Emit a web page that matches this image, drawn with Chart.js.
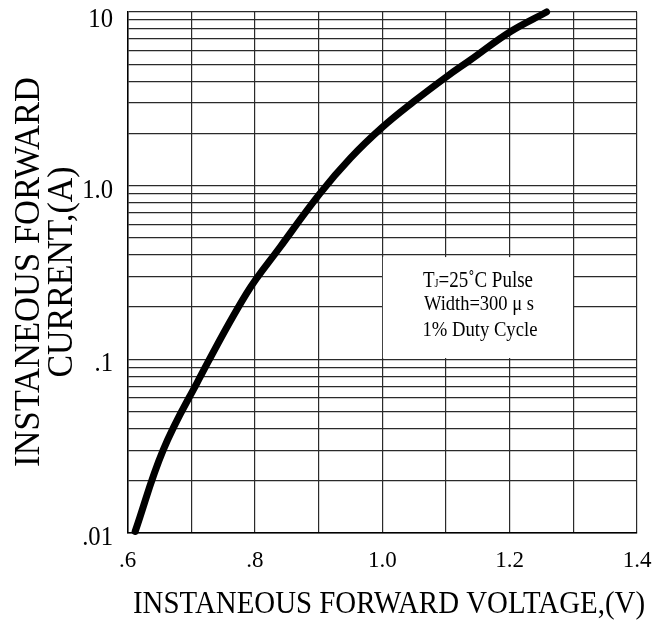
<!DOCTYPE html>
<html>
<head>
<meta charset="utf-8">
<script src="https://cdn.jsdelivr.net/npm/chart.js@4/dist/chart.umd.min.js"></script>
<style>
  html, body { margin: 0; padding: 0; background: #fff; }
  #wrap { width: 665px; height: 622px; position: relative; }
</style>
</head>
<body>
<div id="wrap"><canvas id="vfChart"></canvas></div>
<script>
// forward voltage (V) vs instantaneous forward current (A)
const voltage = [0.612, 0.656, 0.709, 0.787, 0.840, 0.902, 0.950, 0.999, 1.049, 1.101, 1.138, 1.201, 1.258];
const current = [0.0102, 0.030, 0.073, 0.24, 0.445, 0.90, 1.44, 2.15, 3.04, 4.24, 5.28, 7.7, 10];

// grid lines and labels
const xGrid = [0.6, 0.7, 0.8, 0.9, 1.0, 1.1, 1.2, 1.3, 1.4];
const xLabelValues = [0.6, 0.8, 1.0, 1.2, 1.4];
const xLabels = [".6", ".8", "1.0", "1.2", "1.4"];
const yGrid = [
  0.01, 0.02, 0.03, 0.04, 0.05, 0.06, 0.07, 0.08, 0.09,
  0.1, 0.2, 0.3, 0.4, 0.5, 0.6, 0.7, 0.8, 0.9,
  1, 2, 3, 4, 5, 6, 7, 8, 9, 10
];
const yLabelValues = [10, 1, 0.1, 0.01];
const yLabels = ["10", "1.0", ".1", ".01"];

const xTitle = "INSTANEOUS FORWARD VOLTAGE,(V)";
const yTitle = ["INSTANEOUS FORWARD", "CURRENT,(A)"];
const noteLines = ["Width=300 \u03bc s", "1% Duty Cycle"];

const SERIF = "'Liberation Serif', 'Times New Roman', serif";

// draw text squeezed to a given width, centred on cx
function fitText(ctx, text, cx, y, width, size) {
  ctx.save();
  ctx.font = `${size}px ${SERIF}`;
  const w = ctx.measureText(text).width;
  ctx.translate(cx, y);
  ctx.scale(width / w, 1);
  ctx.textAlign = "center";
  ctx.textBaseline = "alphabetic";
  ctx.fillText(text, 0, 0);
  ctx.restore();
}

const textPlugin = {
  id: "textPlugin",
  afterDatasetsDraw(chart) {
    const { ctx, scales } = chart;
    const x = scales.x, y = scales.y;

    // note box
    const left = x.getPixelForValue(1.001);
    const right = x.getPixelForValue(1.2995);
    const top = y.getPixelForValue(0.388);
    const bottom = y.getPixelForValue(0.1017);
    ctx.save();
    ctx.fillStyle = "#fff";
    ctx.fillRect(left, top, right - left, bottom - top);
    ctx.fillStyle = "#000";

    // first line: T with small J
    const cx = (left + right) / 2;
    ctx.font = `24px ${SERIF}`;
    const wT = ctx.measureText("T").width;
    const rest = "=25\u02daC Pulse";
    const wRest = ctx.measureText(rest).width;
    ctx.font = `13px ${SERIF}`;
    const wJ = ctx.measureText("J").width;
    const total = wT + wJ + wRest;
    const sx = 110 / total;
    ctx.translate(cx - 55, 287);
    ctx.scale(sx, 1);
    ctx.textAlign = "left";
    ctx.font = `24px ${SERIF}`;
    ctx.fillText("T", 0, 0);
    ctx.font = `13px ${SERIF}`;
    ctx.fillText("J", wT, 0);
    ctx.font = `24px ${SERIF}`;
    ctx.fillText(rest, wT + wJ, 0);
    ctx.restore();

    ctx.fillStyle = "#000";
    fitText(ctx, noteLines[0], cx + 1, 310, 110, 22);
    fitText(ctx, noteLines[1], cx + 2, 336, 115, 21);
  },
  afterDraw(chart) {
    const { ctx, scales } = chart;
    const x = scales.x, y = scales.y;
    ctx.save();
    ctx.fillStyle = "#000";

    // x tick labels
    ctx.font = `23px ${SERIF}`;
    ctx.textAlign = "center";
    ctx.textBaseline = "alphabetic";
    xLabelValues.forEach((v, i) => {
      ctx.fillText(xLabels[i], x.getPixelForValue(v), 567);
    });

    // y tick labels
    yLabelValues.forEach((v, i) => {
      const py = y.getPixelForValue(v);
      ctx.save();
      ctx.translate(113, v === 10 ? py + 15 : py + 12);
      ctx.scale(0.88, 1);
      ctx.font = `28px ${SERIF}`;
      ctx.textAlign = "right";
      ctx.fillText(yLabels[i], 0, 0);
      ctx.restore();
    });

    // axis titles
    fitText(ctx, xTitle, 389, 613, 512, 31);

    ctx.save();
    ctx.translate(0, 272);
    ctx.rotate(-Math.PI / 2);
    fitText(ctx, yTitle[0], 0, 39, 390, 36);
    fitText(ctx, yTitle[1], 0, 72, 211, 36);
    ctx.restore();

    ctx.restore();
  }
};

new Chart(document.getElementById("vfChart"), {
  type: "line",
  data: {
    datasets: [
      {
        data: voltage.map((v, i) => ({ x: v, y: current[i] })),
        borderColor: "#000",
        borderWidth: 7,
        borderCapStyle: "round",
        borderJoinStyle: "round",
        pointRadius: 0,
        tension: 0.4,
        fill: false,
        clip: false,
      },
    ],
  },
  options: {
    responsive: true,
    maintainAspectRatio: false,
    animation: false,
    layout: { padding: { top: 12, right: 28, left: 0, bottom: 0 } },
    plugins: {
      legend: { display: false },
      tooltip: { enabled: false },
    },
    scales: {
      x: {
        type: "linear",
        min: 0.6,
        max: 1.4,
        afterBuildTicks: (scale) => {
          scale.ticks = xGrid.map((v) => ({ value: v }));
        },
        afterFit: (scale) => {
          scale.height = 89;
        },
        ticks: { display: false },
        grid: { color: "#2a2a2a", lineWidth: 1.2, drawTicks: false },
        border: { color: "#000", width: 1.5 },
      },
      y: {
        type: "logarithmic",
        min: 0.01,
        max: 10,
        afterBuildTicks: (scale) => {
          scale.ticks = yGrid.map((v) => ({ value: v }));
        },
        afterFit: (scale) => {
          scale.width = 127.5;
        },
        ticks: { display: false },
        grid: { color: "#2a2a2a", lineWidth: 1.2, drawTicks: false },
        border: { color: "#000", width: 1.5 },
      },
    },
  },
  plugins: [textPlugin],
});
</script>
</body>
</html>
